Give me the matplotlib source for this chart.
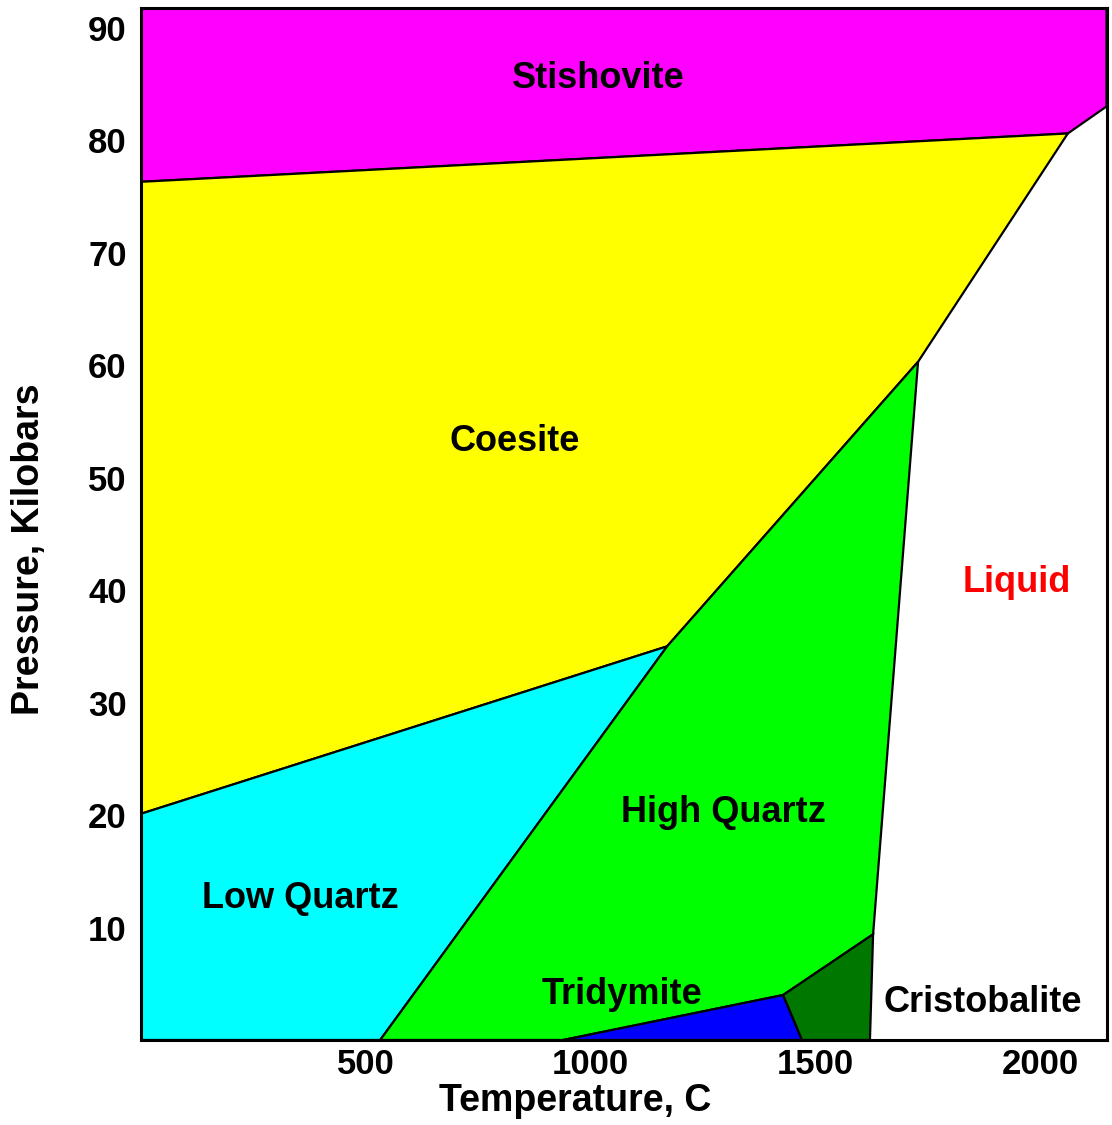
import matplotlib
matplotlib.use("Agg")
import matplotlib.pyplot as plt
from matplotlib.patches import Polygon

# phase boundaries of SiO2, temperature (C) and pressure (kbar)
stishovite_T = [0, 2062, 2148, 2148, 0]
stishovite_P = [76.3, 80.6, 83.0, 92, 92]

coesite_T = [0, 1171, 1729, 2062, 0]
coesite_P = [20.1, 35.0, 60.3, 80.6, 76.3]

low_quartz_T = [0, 533, 1171, 0]
low_quartz_P = [0, 0, 35.0, 20.1]

high_quartz_T = [533, 940, 1429, 1629, 1729, 1171]
high_quartz_P = [0, 0, 4.0, 9.4, 60.3, 35.0]

tridymite_T = [940, 1471, 1429]
tridymite_P = [0, 0, 4.0]

cristobalite_T = [1429, 1471, 1622, 1629]
cristobalite_P = [4.0, 0, 0, 9.4]

phases = ["Stishovite", "Coesite", "Low Quartz", "High Quartz", "Tridymite", "Cristobalite"]
phase_T = [stishovite_T, coesite_T, low_quartz_T, high_quartz_T, tridymite_T, cristobalite_T]
phase_P = [stishovite_P, coesite_P, low_quartz_P, high_quartz_P, tridymite_P, cristobalite_P]
colors = ["#ff00ff", "#ffff00", "#00ffff", "#00ff00", "#0000ff", "#007800"]

# label positions
label_names = ["Stishovite", "Coesite", "Liquid", "High Quartz", "Low Quartz", "Tridymite", "Cristobalite"]
label_T = [1018, 833, 1949, 1296, 356, 1071, 1873]
label_P = [85.5, 53.2, 40.7, 20.2, 12.6, 4.05, 3.3]
label_colors = ["black", "black", "red", "black", "black", "black", "black"]

font = "Liberation Sans"

fig = plt.figure(figsize=(11.12, 11.25), dpi=100)
ax = fig.add_axes([140.5/1112, 85/1125, 966/1112, 1032.5/1125])

for T, P, c in zip(phase_T, phase_P, colors):
    ax.add_patch(Polygon(list(zip(T, P)), closed=True, facecolor=c,
                         edgecolor="black", linewidth=1.6, zorder=1))

for name, T, P, c in zip(label_names, label_T, label_P, label_colors):
    ax.text(T, P, name, ha="center", va="center", color=c,
            fontsize=26, fontweight="bold", family=font, zorder=3)

ax.set_xlim(0, 2148)
ax.set_ylim(0, 91.8)
ax.set_xticks([500, 1000, 1500, 2000])
ax.set_yticks([10, 20, 30, 40, 50, 60, 70, 80, 90])
ax.tick_params(length=0, labelsize=25)
ax.tick_params(axis="y", pad=10)
ax.tick_params(axis="x", pad=6)
for lab in ax.get_xticklabels() + ax.get_yticklabels():
    lab.set_family(font)
    lab.set_fontweight("bold")

for s in ax.spines.values():
    s.set_linewidth(2.2)
    s.set_zorder(4)

ax.set_xlabel("Temperature, C", fontsize=27, fontweight="bold", family=font)
ax.set_ylabel("Pressure, Kilobars", fontsize=27, fontweight="bold", family=font)
ax.xaxis.set_label_coords((575 - 140.5) / 966, -0.042)
ax.yaxis.set_label_coords(-0.097, (1040 - 549) / 1032.5)

fig.savefig("out.png", dpi=100)
